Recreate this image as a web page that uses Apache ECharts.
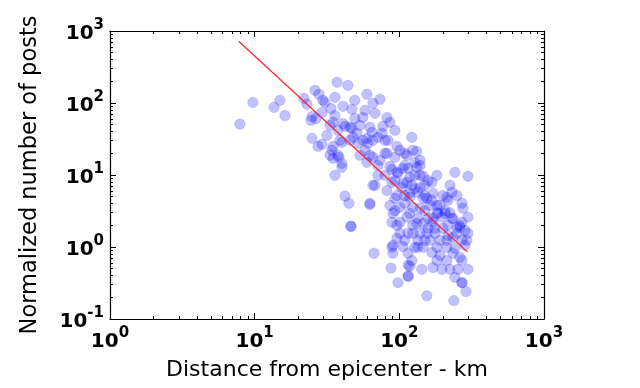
<!DOCTYPE html>
<html>
<head>
<meta charset="utf-8">
<script src="https://cdn.jsdelivr.net/npm/echarts@6/dist/echarts.min.js"></script>
<style>html,body{margin:0;padding:0;background:#fff}#c{width:640px;height:388px}</style>
</head>
<body>
<div id="c"></div>
<script>
// Distance from epicenter (km) and normalized number of posts
const distanceKm = [
  7.91,9.73,13.6,14.96,16.2,21.9,23.0,26.1,27.8,24.9,26.5,24.9,27.4,24.5,
  37.1,44.1,29.6,35.9,30.6,33.7,40.8,47.0,49.3,29.2,35.9,34.8,40.8,33.2,42.1,45.6,47.0,50.9,37.6,31.6,38.9,47.8,29.2,34.8,40.1,51.8,34.2,37.6,40.1,35.9,33.2,34.8,38.2,40.1,42.1,44.8,46.3,46.3,
  59.7,65.7,73.5,56.0,57.9,67.8,82.1,86.1,77.0,62.6,64.7,53.4,56.0,59.7,65.7,71.1,60.7,79.5,83.4,75.8,96.2,82.1,93.2,65.7,59.7,71.1,86.1,88.9,96.2,106,113,62.6,79.5,101,71.1,97.8,88.9,106,65.7,82.1,96.2,62.6,86.1,101,90.3,101,67.8,93.2,
  122,124,132,109,113,139,128,132,115,139,139,146,118,158,182,242,298,168,224,231,213,139,104,118,128,150,118,146,124,150,113,134,124,146,171,200,217,271,275,298,182,197,235,271,171,217,250,155,139,109,118,185,191,207,262,250,
  62.6,66.8,93.2,88.9,96.2,90.3,106,96.2,87.5,97.8,115,115,101,88.9,109,90.3,
  132,158,171,298,293,271,235,213,191,176,155,139,124,115,128,134,146,182,213,115,168,191,235,262,122,182,213,271,118,143,171,197,224,254,298,115,242,271,271,289,155,238,163,250,200,150,109,163,176,134,224,158,284,242,
  122,134,150,168,182,207,231,262,284,217,128,109,93.2,79.5,73.5,57.9,45.6,49.3,53.4,93.2
];
const normalizedPosts = [
  51,102,87,109,67,116,96,150,132,65,61,32.3,25.0,57.5,
  194,176,109,120,102,84,90,82,109,74,67,54,52,49,47.5,46,44.5,38,41.8,35.6,30.3,33.4,26.7,25.0,28.5,27.6,22.0,18.8,14.5,9.9,18.8,17.1,17.6,12.8,5.1,4.05,1.94,1.94,
  132,99,113,63,79,72,63,54,47.5,46,39.2,18.8,30.3,32.3,30.3,33.4,27.6,30.3,30.3,38,25.0,20.0,17.6,17.6,15.0,9.9,13.2,12.0,10.9,12.4,7.9,18.8,20.0,22.0,13.6,10.6,7.9,7.7,7.2,6.1,5.2,4.05,3.8,3.55,2.95,2.2,7.2,4.75,
  33.4,22.0,21.3,20.0,18.8,16.0,15.0,12.8,12.4,13.6,9.9,9.6,9.3,8.4,9.9,10.9,9.6,7.9,7.2,5.75,4.9,6.7,6.7,5.6,6.5,7.2,4.9,4.75,3.55,3.2,2.6,2.5,2.0,2.13,5.6,5.2,4.45,4.05,3.45,2.6,3.0,2.6,2.5,2.2,2.2,2.0,1.88,4.75,3.45,4.05,2.95,2.95,3.8,3.2,1.88,5.2,
  3.9,0.82,3.2,2.2,2.0,1.06,1.02,1.32,0.51,0.32,0.56,0.40,1.55,0.99,1.24,0.82,
  2.13,1.82,2.5,1.55,1.24,1.24,1.36,1.24,1.24,1.55,1.55,1.55,1.55,1.55,0.99,0.99,0.99,0.99,0.99,0.82,0.84,0.77,0.82,0.72,0.65,0.65,0.65,0.65,0.54,0.49,0.52,0.49,0.49,0.49,0.49,0.39,0.38,0.32,0.32,0.24,0.21,0.18,1.24,1.55,1.82,1.24,5.2,3.8,1.82,1.24,3.0,2.5,1.06,0.96,
  7.2,5.75,5.2,4.45,3.8,2.95,2.5,2.0,1.7,1.45,9.9,13.6,8.4,9.9,16.0,22.0,30.3,61,49,41.8
];
// Power-law fit line endpoints
const fitDistance = [7.75, 296.5];
const fitPosts = [719, 0.85];

const xMajor = [1, 10, 100, 1000];
const yMajor = [0.1, 1, 10, 100, 1000];
const xMinor = [2,3,4,5,6,7,8,9,20,30,40,50,60,70,80,90,200,300,400,500,600,700,800,900];
const yMinor = [0.2,0.3,0.4,0.5,0.6,0.7,0.8,0.9,2,3,4,5,6,7,8,9,20,30,40,50,60,70,80,90,200,300,400,500,600,700,800,900];

const FONT = 'DejaVu Sans';
const rich = {
  b: {fontFamily: FONT, fontSize: 20, fontWeight: 'bold', color: '#000', lineHeight: 26, verticalAlign: 'bottom'},
  s: {fontFamily: FONT, fontSize: 15, fontWeight: 'bold', color: '#000', lineHeight: 14, verticalAlign: 'top'}
};
function expLabel(v) {
  const e = Math.round(Math.log10(v));
  return '{b|10}{s|' + e + '}';
}

const scatterData = distanceKm.map((d, i) => [d, normalizedPosts[i]]);
const fitData = fitDistance.map((d, i) => [d, fitPosts[i]]);

function makeAxis(pos, min, max, ticks, len, main, labels) {
  return {
    type: 'log', logBase: 10, position: pos, min: min, max: max,
    gridIndex: 0,
    axisLine: {show: main, onZero: false, lineStyle: {color: '#000', width: 1.2}},
    axisTick: {show: true, inside: true, length: len, customValues: ticks, lineStyle: {color: '#000', width: 1}},
    axisLabel: labels ? {show: true, customValues: labels, formatter: expLabel, rich: rich, margin: pos === 'bottom' ? 7 : 6} : {show: false},
    minorTick: {show: false},
    splitLine: {show: false}
  };
}

const chart = echarts.init(document.getElementById('c'), null, {renderer: 'canvas'});
const xa0 = makeAxis('bottom', 1, 1000, xMajor, 6, true, xMajor);
xa0.name = 'Distance from epicenter - km';
xa0.nameLocation = 'middle';
xa0.nameGap = 40;
xa0.nameTextStyle = {fontFamily: FONT, fontSize: 22, color: '#000'};
const ya0 = makeAxis('left', 0.1, 1000, yMajor, 6, true, yMajor);
ya0.name = 'Normalized number of posts';
ya0.nameLocation = 'middle';
ya0.nameGap = 68;
ya0.nameTextStyle = {fontFamily: FONT, fontSize: 22.5, color: '#000'};

chart.setOption({
  animation: false,
  backgroundColor: '#fff',
  grid: {left: 110, top: 31, width: 434, height: 288, containLabel: false},
  xAxis: [
    xa0,
    makeAxis('bottom', 1, 1000, xMinor, 3, false, null),
    makeAxis('top', 1, 1000, xMajor, 6, true, null),
    makeAxis('top', 1, 1000, xMinor, 3, false, null)
  ],
  yAxis: [
    ya0,
    makeAxis('left', 0.1, 1000, yMinor, 3, false, null),
    makeAxis('right', 0.1, 1000, yMajor, 6, true, null),
    makeAxis('right', 0.1, 1000, yMinor, 3, false, null)
  ],
  series: [
    {
      type: 'scatter', xAxisIndex: 0, yAxisIndex: 0,
      data: scatterData, symbol: 'circle', symbolSize: 10.5,
      itemStyle: {color: 'rgba(0,0,255,0.3)', borderColor: 'rgba(0,0,255,0.3)', borderWidth: 0.5},
      z: 2
    },
    {
      type: 'line', xAxisIndex: 0, yAxisIndex: 0,
      data: fitData, showSymbol: false, symbol: 'none',
      lineStyle: {color: '#ff2020', width: 1.2},
      z: 3
    }
  ]
});
</script>
</body>
</html>
